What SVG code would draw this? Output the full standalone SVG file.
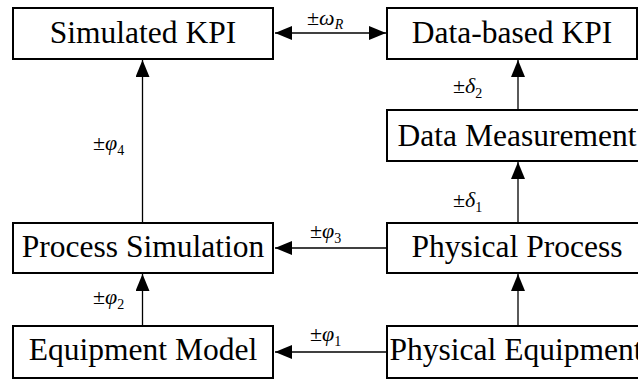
<svg xmlns="http://www.w3.org/2000/svg" width="638" height="381" viewBox="0 0 638 381">
  <style>
    .box { fill: #fff; stroke: #000; stroke-width: 2; }
    .name { font-family: 'Liberation Serif', Tinos, 'DejaVu Serif', serif; font-size: 31.5px; text-anchor: middle; fill: #000; }
    .wire { stroke: #000; stroke-width: 1.3; fill: none; }
    .err { font-family: 'Liberation Serif', Tinos, 'DejaVu Serif', serif; font-size: 22px; fill: #000; }
    .it { font-style: italic; }
    .sub { font-size: 14px; }
  </style>
  <defs>
    <marker id="ah" markerUnits="userSpaceOnUse" markerWidth="18" markerHeight="14" refX="17" refY="7" orient="auto-start-reverse">
      <path d="M0,0 L17,7 L0,14 Z" fill="#000"/>
    </marker>
  </defs>

  <rect width="638" height="381" fill="#fff"/>

  <!-- connectors and their error labels -->
  <g id="connectors">
    <line class="wire" x1="275" y1="33" x2="386" y2="33" marker-start="url(#ah)" marker-end="url(#ah)"/>
    <line class="wire" x1="386" y1="248" x2="275" y2="248" marker-end="url(#ah)"/>
    <line class="wire" x1="386" y1="352" x2="275" y2="352" marker-end="url(#ah)"/>
    <line class="wire" x1="142.5" y1="326" x2="142.5" y2="274" marker-end="url(#ah)"/>
    <line class="wire" x1="142.5" y1="222" x2="142.5" y2="60" marker-end="url(#ah)"/>
    <line class="wire" x1="518" y1="326" x2="518" y2="274" marker-end="url(#ah)"/>
    <line class="wire" x1="518" y1="222" x2="518" y2="162" marker-end="url(#ah)"/>
    <line class="wire" x1="518" y1="109" x2="518" y2="60" marker-end="url(#ah)"/>

    <text class="err" x="307" y="25">±<tspan class="it">ω</tspan><tspan class="it sub" dy="4">R</tspan></text>
    <text class="err" x="453" y="93">±<tspan class="it">δ</tspan><tspan class="sub" dy="5">2</tspan></text>
    <text class="err" x="453" y="207">±<tspan class="it">δ</tspan><tspan class="sub" dy="5">1</tspan></text>
    <text class="err" x="93" y="150">±<tspan class="it">φ</tspan><tspan class="sub" dy="5">4</tspan></text>
    <text class="err" x="310" y="238">±<tspan class="it">φ</tspan><tspan class="sub" dy="5">3</tspan></text>
    <text class="err" x="93" y="304">±<tspan class="it">φ</tspan><tspan class="sub" dy="5">2</tspan></text>
    <text class="err" x="310" y="341">±<tspan class="it">φ</tspan><tspan class="sub" dy="5">1</tspan></text>
  </g>

  <!-- nodes -->
  <g id="simulated-kpi">
    <rect class="box" x="13" y="8" width="260" height="51"/>
    <text class="name" x="143" y="43">Simulated KPI</text>
  </g>
  <g id="data-based-kpi">
    <rect class="box" x="387" y="8" width="250" height="51"/>
    <text class="name" x="512" y="43">Data-based KPI</text>
  </g>
  <g id="data-measurement">
    <rect class="box" x="387" y="110" width="262" height="51"/>
    <text class="name" x="517" y="146">Data Measurement</text>
  </g>
  <g id="process-simulation">
    <rect class="box" x="13" y="223" width="260" height="50"/>
    <text class="name" x="143" y="257">Process Simulation</text>
  </g>
  <g id="physical-process">
    <rect class="box" x="387" y="223" width="262" height="50"/>
    <text class="name" x="517" y="257">Physical Process</text>
  </g>
  <g id="equipment-model">
    <rect class="box" x="13" y="326" width="260" height="52"/>
    <text class="name" x="143" y="360">Equipment Model</text>
  </g>
  <g id="physical-equipment">
    <rect class="box" x="387" y="326" width="262" height="52"/>
    <text class="name" x="516" y="360">Physical Equipment</text>
  </g>
</svg>
